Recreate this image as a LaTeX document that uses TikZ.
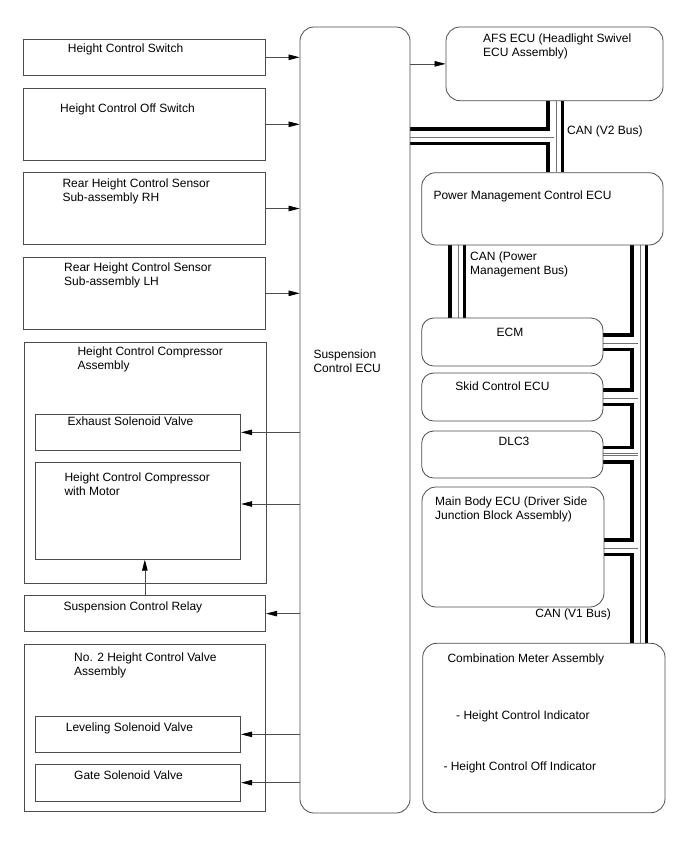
\documentclass[tikz,border=0pt]{standalone}
\usepackage{fontspec}
\setmainfont{Liberation Sans}
\usetikzlibrary{arrows.meta,backgrounds}

\tikzset{
  box/.style={draw=black!70, line width=0.8pt, inner sep=0pt},
  ecubox/.style={box, rounded corners=14pt},
  wh/.style 2 args={minimum width=#1pt, minimum height=#2pt},
  txt/.style={anchor=north west, inner sep=0pt, align=left, font=\fontsize{12}{14}\selectfont},
  sig/.style={draw=black!70, line width=0.7pt, ->},
  busout/.style={line width=18pt, black},
  busin/.style={line width=11pt, white},
  buscore/.style={line width=0.6pt, black!55, double=white, double distance=1.8pt}
}

\begin{document}
\begin{tikzpicture}[x=1pt, y=-1pt, >={Triangle[length=11pt,width=5.5pt,color=black]}]
\useasboundingbox (0,0) rectangle (688,852);

% left column
\node[box, wh={242.4}{36}] (hcs) at (144.5,57.3) {};
\node[box, wh={242.4}{72}] (hcos) at (144.5,124.3) {};
\node[box, wh={242.4}{71.6}] (rhs) at (144.5,208.5) {};
\node[box, wh={242.4}{72}] (lhs) at (144.5,293.3) {};
\node[box, wh={242}{241}] (comp) at (145,462.8) {};
\node[box, wh={205}{36.7}] (exh) at (138.2,432.35) {};
\node[box, wh={205}{96.6}] (motor) at (138.2,511) {};
\node[box, wh={241.7}{36.2}] (relay) at (144.85,613.6) {};
\node[box, wh={241.7}{167.4}] (valve) at (144.85,728) {};
\node[box, wh={205}{36.7}] (lev) at (138.2,734.35) {};
\node[box, wh={205}{36.7}] (gate) at (138.2,782.65) {};

\node[txt] (t-hcs) at (67.7,43.2) {Height Control Switch};
\node[txt] (t-hcos) at (60,103.5) {Height Control Off Switch};
\node[txt] (t-rhs) at (62.3,178.2) {Rear Height Control Sensor\\Sub-assembly RH};
\node[txt] (t-lhs) at (64,262.8) {Rear Height Control Sensor\\Sub-assembly LH};
\node[txt] (t-comp) at (77.3,346.2) {Height Control Compressor\\Assembly};
\node[txt] (t-exh) at (67.3,416.2) {Exhaust Solenoid Valve};
\node[txt] (t-motor) at (64.3,472.2) {Height Control Compressor\\with Motor};
\node[txt] (t-relay) at (63.3,601.2) {Suspension Control Relay};
\node[txt] (t-valve) at (74,652.2) {No. 2 Height Control Valve\\Assembly};
\node[txt] (t-lev) at (65.7,722.2) {Leveling Solenoid Valve};
\node[txt] (t-gate) at (74,770.5) {Gate Solenoid Valve};

% suspension ecu
\node[ecubox, wh={110}{786}] (ecu) at (355,420) {};
\node[txt] (t-ecu) at (313.3,349.5) {Suspension\\Control ECU};

% right column
\node[ecubox, wh={217}{73.7}] (afs) at (554.5,63.85) {};
\node[ecubox, wh={241.3}{72.3}] (pmecu) at (542.35,208.85) {};
\node[ecubox, rounded corners=12pt, wh={181.3}{48}] (ecm) at (512.35,342) {};
\node[ecubox, rounded corners=12pt, wh={181.3}{48}] (skid) at (512.35,397) {};
\node[ecubox, rounded corners=12pt, wh={181.3}{47}] (dlc) at (512.35,454.5) {};
\node[ecubox, wh={182}{120}] (mbecu) at (513,547) {};
\node[ecubox, wh={242.3}{169.4}] (meter) at (543.85,728) {};

\node[txt] (t-afs) at (483,33.8) {AFS ECU (Headlight Swivel\\ECU Assembly)};
\node[txt] (t-pmecu) at (433.3,190.5) {Power Management Control ECU};
\node[txt, anchor=north] (t-ecm) at (510,327.5) {ECM};
\node[txt, anchor=north] (t-skid) at (502.5,381.5) {Skid Control ECU};
\node[txt, anchor=north] (t-dlc) at (514,437.2) {DLC3};
\node[txt] (t-mbecu) at (435,496.2) {Main Body ECU (Driver Side\\Junction Block Assembly)};
\node[txt] (t-meter) at (447.3,653.8) {Combination Meter Assembly};
\node[txt] (t-hci) at (456,710.5) {- Height Control Indicator};
\node[txt] (t-hcoi) at (443.3,761.5) {- Height Control Off Indicator};

\node[txt] (t-v2) at (567,125.5) {CAN (V2 Bus)};
\node[txt] (t-pmbus) at (470,251.5) {CAN (Power\\Management Bus)};
\node[txt, anchor=north east] (t-v1) at (611,608.5) {CAN (V1 Bus)};

% signal lines
\foreach \n in {hcs,hcos,rhs,lhs}
  \draw[sig] (\n.east) -- (\n.east -| ecu.west);
\coordinate (motorin) at ([yshift=7pt]motor.east);
\foreach \n in {exh,motorin,relay,lev,gate}
  \draw[sig] (ecu.west |- \n) -- (\n);
\draw[sig] (relay.north) -- (relay.north |- motor.south);
\draw[sig] (ecu.east |- afs.west) -- (afs.west);

% can buses
\coordinate (v2) at (555,136);
\coordinate (pmbus) at (457,0);
\coordinate (v1) at (639,0);
\begin{pgfonlayer}{background}
\foreach \s in {busout,busin,buscore}
  \draw[\s] (ecu.east |- v2) -- (v2)
    (afs.south -| v2) -- (pmecu.north -| v2)
    (pmecu.south -| pmbus) -- (ecm.north -| pmbus)
    (pmecu.south -| v1) -- (meter.north -| v1)
    (ecm.east) -- (ecm.east -| v1)
    (skid.east) -- (skid.east -| v1)
    (dlc.east) -- (dlc.east -| v1)
    (mbecu.east) -- (mbecu.east -| v1);
\end{pgfonlayer}
\end{tikzpicture}
\end{document}
